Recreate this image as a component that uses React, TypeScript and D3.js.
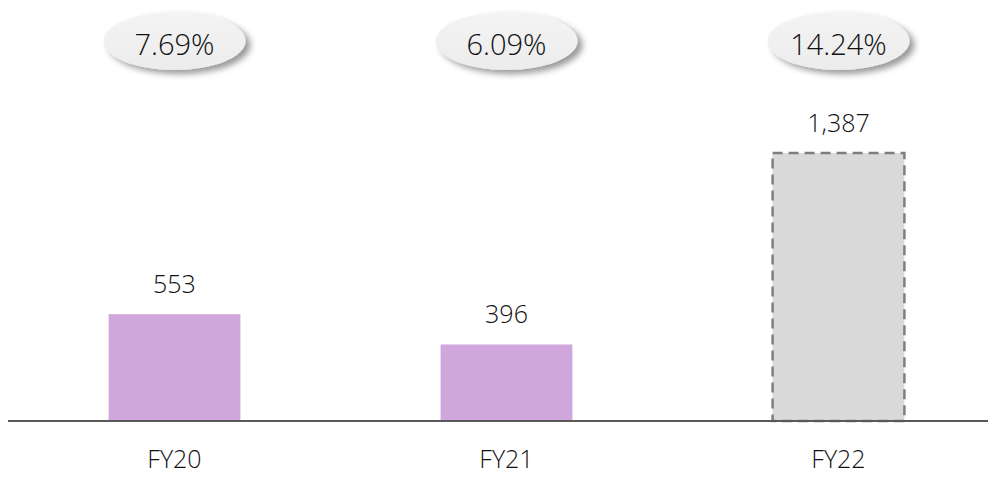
import React from "react";
import * as d3 from "d3";

const categories = ["FY20", "FY21", "FY22"];
const values = [553, 396, 1387];
const valueLabels = ["553", "396", "1,387"];
const growthLabels = ["7.69%", "6.09%", "14.24%"];
const projected = [false, false, true];

const W = 996;
const H = 477;
const BASE = 421;
const FONT = "'Open Sans', 'Segoe UI', sans-serif";

export default function App() {
  const x = d3
    .scaleBand<string>()
    .domain(categories)
    .range([8, 1005])
    .paddingInner(0.603)
    .paddingOuter(0.303);
  const y = d3.scaleLinear().domain([0, 1387]).range([BASE, 153]);
  const bw = x.bandwidth();

  return (
    <svg
      width={W}
      height={H}
      style={{ position: "absolute", left: 0, top: 0, background: "#fff" }}
    >
      <defs>
        <filter id="shadow" x="-20%" y="-30%" width="150%" height="180%">
          <feDropShadow dx="5" dy="4" stdDeviation="3" floodColor="#000" floodOpacity="0.4" />
        </filter>
        <linearGradient id="ellFill" x1="0" y1="0" x2="0" y2="1">
          <stop offset="0%" stopColor="#f4f4f4" />
          <stop offset="100%" stopColor="#ececec" />
        </linearGradient>
      </defs>

      {categories.map((c, i) => {
        const cx = (x(c) as number) + bw / 2;
        return (
          <g key={"g" + c}>
            <ellipse cx={cx} cy={41} rx={71} ry={29} fill="url(#ellFill)" filter="url(#shadow)" />
            <text
              x={cx}
              y={55}
              textAnchor="middle"
              fontFamily={FONT}
              fontWeight={300}
              fontSize={29}
              fill="#111"
            >
              {growthLabels[i]}
            </text>
          </g>
        );
      })}

      {categories.map((c, i) => {
        const x0 = x(c) as number;
        const top = y(values[i]);
        return (
          <g key={"b" + c}>
            {projected[i] ? (
              <rect
                x={x0}
                y={top}
                width={bw}
                height={BASE - top}
                fill="#d9d9d9"
                stroke="#7f7f7f"
                strokeWidth={2.5}
                strokeDasharray="10 6"
              />
            ) : (
              <rect x={x0} y={top} width={bw} height={BASE - top} fill="#cfa7dc" />
            )}
            <text
              x={x0 + bw / 2}
              y={top - 21}
              textAnchor="middle"
              fontFamily={FONT}
              fontWeight={300}
              fontSize={25}
              fill="#111"
            >
              {valueLabels[i]}
            </text>
            <text
              x={x0 + bw / 2}
              y={468}
              textAnchor="middle"
              fontFamily={FONT}
              fontWeight={300}
              fontSize={25}
              fill="#111"
            >
              {c}
            </text>
          </g>
        );
      })}

      <line x1={8} x2={988} y1={BASE} y2={BASE} stroke="#595959" strokeWidth={2} />
    </svg>
  );
}
